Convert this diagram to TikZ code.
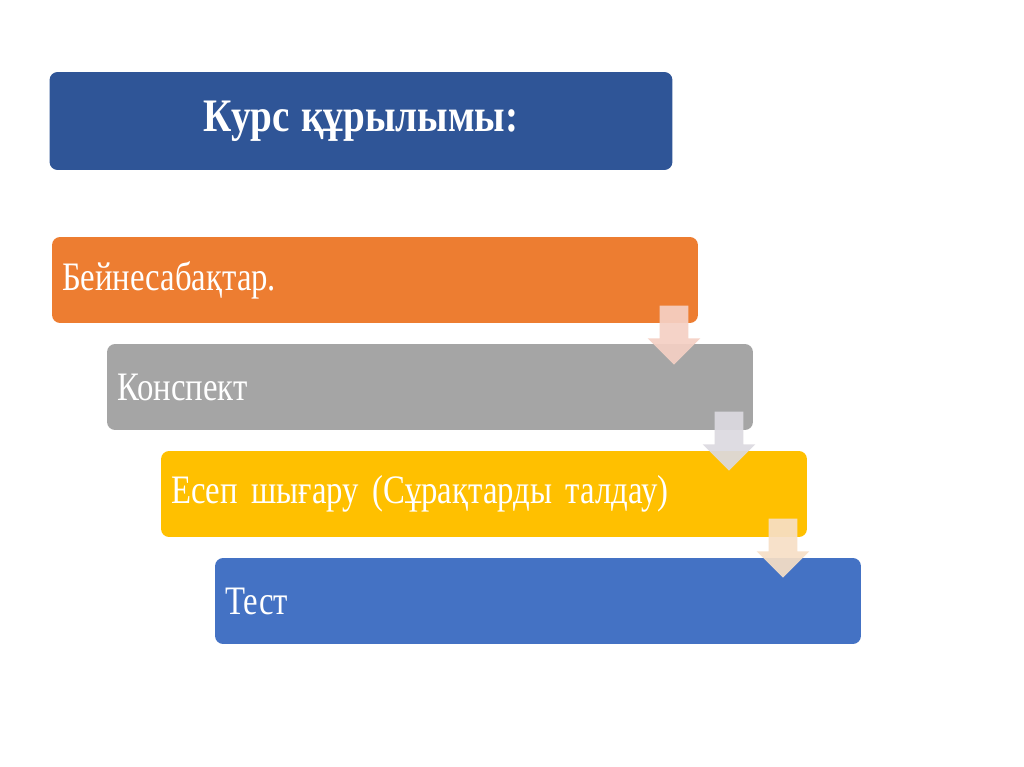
\documentclass[tikz,border=0pt]{standalone}
\usepackage{fontspec}
\setmainfont[FakeStretch=0.81, WordSpace=0.9]{Liberation Serif}
\newfontfamily\titlefont[FakeStretch=0.84, WordSpace=1.2]{Liberation Serif}
\usetikzlibrary{shapes.arrows}
\definecolor{titleblue}{HTML}{2F5597}
\definecolor{boxorange}{HTML}{ED7D31}
\definecolor{boxgray}{HTML}{A5A5A5}
\definecolor{boxyellow}{HTML}{FFC000}
\definecolor{boxblue}{HTML}{4472C4}
\definecolor{arrowpink}{HTML}{F5D0C4}
\definecolor{arrowgray}{HTML}{DCDAE0}
\definecolor{arrowpeach}{HTML}{F7DFC6}
\begin{document}
\begin{tikzpicture}[x=0.02cm, y=-0.02cm,
    stepbox/.style={rounded corners=0.16cm, minimum width=12.92cm, minimum height=1.72cm,
        text width=12.52cm, inner xsep=0.2cm, align=left, text=white,
        font=\fontsize{23}{27}\selectfont},
    flowarrow/.style={single arrow, shape border rotate=270, inner sep=0.28cm,
        minimum height=1.18cm, single arrow head extend=0.24cm,
        fill opacity=0.92}]
    % Page
    \useasboundingbox (0,0) rectangle (1024,767);
    \fill[white] (0,0) rectangle (1024,767);

    % Title
    \node[rounded corners=0.16cm, fill=titleblue, minimum width=12.46cm, minimum height=1.96cm,
        text=white, font=\titlefont\fontsize{26.5}{31}\selectfont\bfseries] (title) at (361,121) {Курс құрылымы:};

    % Steps
    \node[stepbox, fill=boxorange] (video) at (375,280) {Бейнесабақтар.};
    \node[stepbox, fill=boxgray] (notes) at (430,387) {Конспект};
    \node[stepbox, fill=boxyellow] (tasks) at (484,494) {Есеп шығару (Сұрақтарды талдау)};
    \node[stepbox, fill=boxblue] (test) at (538,601) {Тест};

    % Arrows between steps
    \node[flowarrow, fill=arrowpink] (arrA) at (674,328) {};
    \node[flowarrow, fill=arrowgray] (arrB) at (729,434) {};
    \node[flowarrow, fill=arrowpeach] (arrC) at (783,541) {};
\end{tikzpicture}
\end{document}
